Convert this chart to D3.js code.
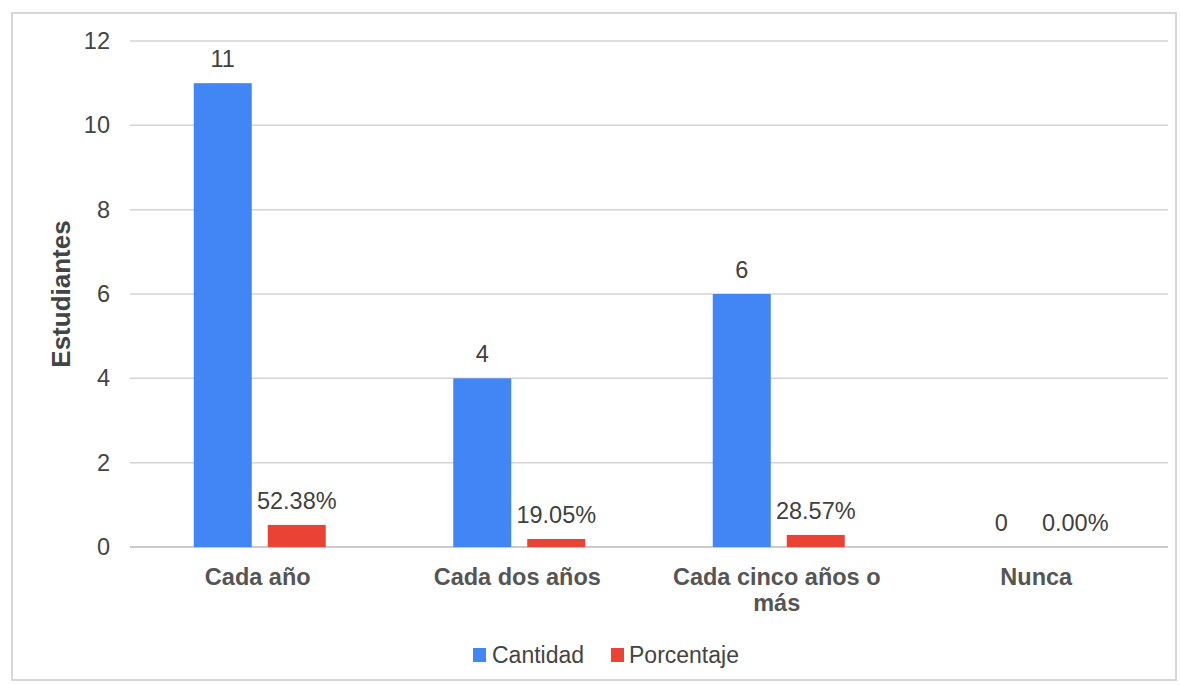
<!DOCTYPE html>
<html>
<head>
<meta charset="utf-8">
<script src="https://cdn.jsdelivr.net/npm/d3@7"></script>
<style>
  html, body { margin: 0; padding: 0; background: #fff; }
  svg { display: block; font-family: "Liberation Sans", Arial, sans-serif; }
</style>
</head>
<body>
<svg id="chart" width="1180" height="685"></svg>
<script>
const categories = [["Cada año"], ["Cada dos años"], ["Cada cinco años o", "más"], ["Nunca"]];
const categoryKeys = ["Cada año", "Cada dos años", "Cada cinco años o más", "Nunca"];
const series = ["Cantidad", "Porcentaje"];
const cantidad = [11, 4, 6, 0];
const porcentaje = [52.38, 19.05, 28.57, 0.00];
const yTicks = [0, 2, 4, 6, 8, 10, 12];
const colors = ["#4285f4", "#ea4335"];

const svg = d3.select("#chart");

// frame
svg.append("rect").attr("x", 12).attr("y", 13).attr("width", 1164).attr("height", 667)
  .attr("fill", "#fff").attr("stroke", "#d6d6d6").attr("stroke-width", 2);

const x0 = d3.scaleBand().domain(categoryKeys).range([130, 1168]).padding(0);
const x1 = d3.scaleBand().domain(series).range([0, x0.bandwidth()]).paddingInner(0.216).paddingOuter(0.8615);
const y = d3.scaleLinear().domain([0, 12]).range([547, 41]);

// gridlines
svg.append("g").selectAll("line").data(yTicks).join("line")
  .attr("x1", 130).attr("x2", 1168)
  .attr("y1", d => y(d)).attr("y2", d => y(d))
  .attr("stroke", d => d === 0 ? "#b8b8b8" : "#d4d4d4").attr("stroke-width", 1.5);

// y axis labels
const yAxis = svg.append("g").attr("transform", "translate(130,0)")
  .call(d3.axisLeft(y).tickValues(yTicks).tickSize(0).tickPadding(20).tickFormat(d3.format("d")));
yAxis.select(".domain").remove();
yAxis.selectAll("text").attr("font-size", 23.5).attr("fill", "#444").attr("font-family", "Liberation Sans, Arial, sans-serif");

// y title
svg.append("text").attr("transform", `translate(70,${(y(0) + y(12)) / 2}) rotate(-90)`)
  .attr("text-anchor", "middle").attr("font-size", 26).attr("font-weight", "bold").attr("fill", "#444")
  .text("Estudiantes");

const rows = categoryKeys.map((c, i) => ({ cat: c, vals: [
  { s: series[0], v: cantidad[i], label: d3.format("d")(cantidad[i]) },
  { s: series[1], v: porcentaje[i] / 100, label: porcentaje[i].toFixed(2) + "%" }
]}));

const groups = svg.append("g").selectAll("g").data(rows).join("g")
  .attr("transform", d => `translate(${x0(d.cat)},0)`);

groups.selectAll("rect").data(d => d.vals).join("rect")
  .attr("x", d => x1(d.s)).attr("width", x1.bandwidth())
  .attr("y", d => y(d.v)).attr("height", d => y(0) - y(d.v))
  .attr("fill", (d, i) => colors[i]);

groups.selectAll("text").data(d => d.vals).join("text")
  .attr("x", d => x1(d.s) + x1.bandwidth() / 2)
  .attr("y", d => y(d.v) - 16)
  .attr("text-anchor", "middle").attr("font-size", 23.5).attr("fill", "#404040")
  .text(d => d.label);

// category labels
const catG = svg.append("g").selectAll("text").data(categories).join("text")
  .attr("x", (d, i) => x0(categoryKeys[i]) + x0.bandwidth() / 2 - 2)
  .attr("y", 585)
  .attr("text-anchor", "middle").attr("font-size", 23.5).attr("font-weight", "bold").attr("fill", "#555");
catG.selectAll("tspan").data(d => d).join("tspan")
  .attr("x", function() { return d3.select(this.parentNode).attr("x"); })
  .attr("dy", (d, i) => i === 0 ? 0 : 26)
  .text(d => d);

// legend
const legendItems = [{ name: series[0], x: 473, tx: 492 }, { name: series[1], x: 611, tx: 629 }];
const lg = svg.append("g").selectAll("g").data(legendItems).join("g");
lg.append("rect").attr("x", d => d.x).attr("y", 648).attr("width", 13).attr("height", 14)
  .attr("fill", (d, i) => colors[i]);
lg.append("text").attr("x", d => d.tx).attr("y", 663).attr("font-size", 23).attr("fill", "#444")
  .text(d => d.name);
</script>
</body>
</html>
